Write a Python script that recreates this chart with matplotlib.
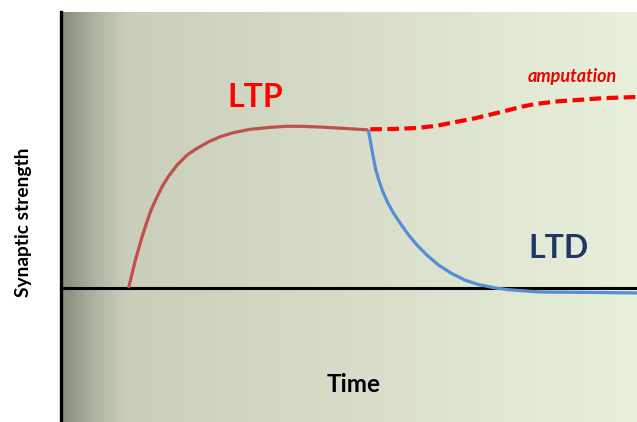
import numpy as np
import matplotlib
matplotlib.use("Agg")
import matplotlib.pyplot as plt
from matplotlib.colors import LinearSegmentedColormap

# ---- data (time in arbitrary units 0..100, synaptic strength relative, 0 = baseline) ----
ltp_time = [11.8, 12.43, 13.0, 13.57, 14.16, 14.9, 15.72, 16.64, 17.63, 18.77, 20.23, 21.96,
            23.69, 25.7, 27.73, 30.03, 32.93, 36.4, 39.3, 42.1, 45.1, 48.0, 50.8, 53.4]
ltp_strength = [0.0, 0.092, 0.175, 0.248, 0.321, 0.405, 0.488, 0.561, 0.634, 0.70, 0.769, 0.831,
                0.873, 0.914, 0.946, 0.971, 0.992, 1.004, 1.011, 1.010, 1.006, 1.0, 0.994, 0.988]

amp_time = [53.73, 57.76, 61.82, 65.29, 67.89, 71.92, 75.96, 80.02, 82.32, 86.36, 90.42, 93.88, 98.49, 100.0]
amp_strength = [0.992, 0.994, 1.0, 1.014, 1.033, 1.061, 1.096, 1.133, 1.15, 1.167, 1.177, 1.186, 1.192, 1.194]

ltd_time = [53.4, 53.78, 54.19, 54.64, 55.23, 55.93, 56.85, 57.83, 58.98, 60.43, 61.87, 63.6,
            65.63, 67.94, 70.24, 72.56, 75.44, 77.76, 83.2, 91.9, 100.0]
ltd_strength = [0.988, 0.9125, 0.829, 0.746, 0.673, 0.60, 0.527, 0.464, 0.402, 0.329, 0.267, 0.204,
                0.142, 0.089, 0.048, 0.021, 0.0, -0.011, -0.025, -0.028, -0.031]

labels = {"LTP": (33.8, 1.131), "LTD": (86.3, 0.19), "amputation": (88.7, 1.29), "Time": (50.8, -0.65)}

# ---- figure ----
W, H = 637, 422
fig = plt.figure(figsize=(W / 100, H / 100), dpi=100)
fig.patch.set_facecolor("white")
left_px, top_px = 60.5, 12
ax = fig.add_axes([left_px / W, 0, 1 - left_px / W, (H - top_px) / H])

xlim = (0, 100)
ylim = (-(422 - 288) / 160, (288 - 12) / 160)
ax.set_xlim(*xlim)
ax.set_ylim(*ylim)

# background gradient
bg = LinearSegmentedColormap.from_list("bg", [
    (0.0, (0.53, 0.55, 0.49)),
    (0.05, (0.66, 0.69, 0.62)),
    (0.11, (0.79, 0.81, 0.73)),
    (0.4, (0.83, 0.85, 0.77)),
    (1.0, (0.91, 0.94, 0.86)),
])
grad = np.linspace(0, 1, 600)[None, :]
ax.imshow(grad, cmap=bg, extent=[xlim[0], xlim[1], ylim[0], ylim[1]], aspect="auto", zorder=0)

# baseline
ax.axhline(0, color="black", lw=2.2, zorder=2)

# curves
ax.plot(ltp_time, ltp_strength, color="#C0504D", lw=2.3, solid_capstyle="butt",
        solid_joinstyle="round", zorder=3)
ax.plot(ltd_time, ltd_strength, color="#558ED5", lw=2.3, solid_capstyle="butt",
        solid_joinstyle="round", zorder=3)
ax.plot(amp_time, amp_strength, color="#FF0000", lw=3.0, dashes=(2.8, 1.3), zorder=4)

# labels
fam = ["Lato", "DejaVu Sans"]
ax.text(*labels["LTP"], "LTP", color="#FF0000", fontsize=23, fontweight="bold", family=fam,
        ha="center", va="baseline")
ax.text(*labels["LTD"], "LTD", color="#1F3864", fontsize=23, fontweight="bold", family=fam,
        ha="center", va="baseline")
ax.text(*labels["amputation"], "amputation", color="#EE0000", fontsize=13, fontweight="bold",
        fontstyle="italic", family=fam, ha="center", va="baseline")
ax.text(*labels["Time"], "Time", color="black", fontsize=17.5, fontweight="bold", family=fam,
        ha="center", va="baseline")
fig.text(24 / W, 1 - 222 / H, "Synaptic strength", rotation=90, fontsize=13.8, fontweight="bold",
         family=fam, ha="center", va="center", color="black")

for s in ["top", "right", "bottom"]:
    ax.spines[s].set_visible(False)
ax.spines["left"].set_linewidth(2.4)
ax.spines["left"].set_color("black")
ax.set_xticks([])
ax.set_yticks([])

fig.savefig("out.png", dpi=100)
